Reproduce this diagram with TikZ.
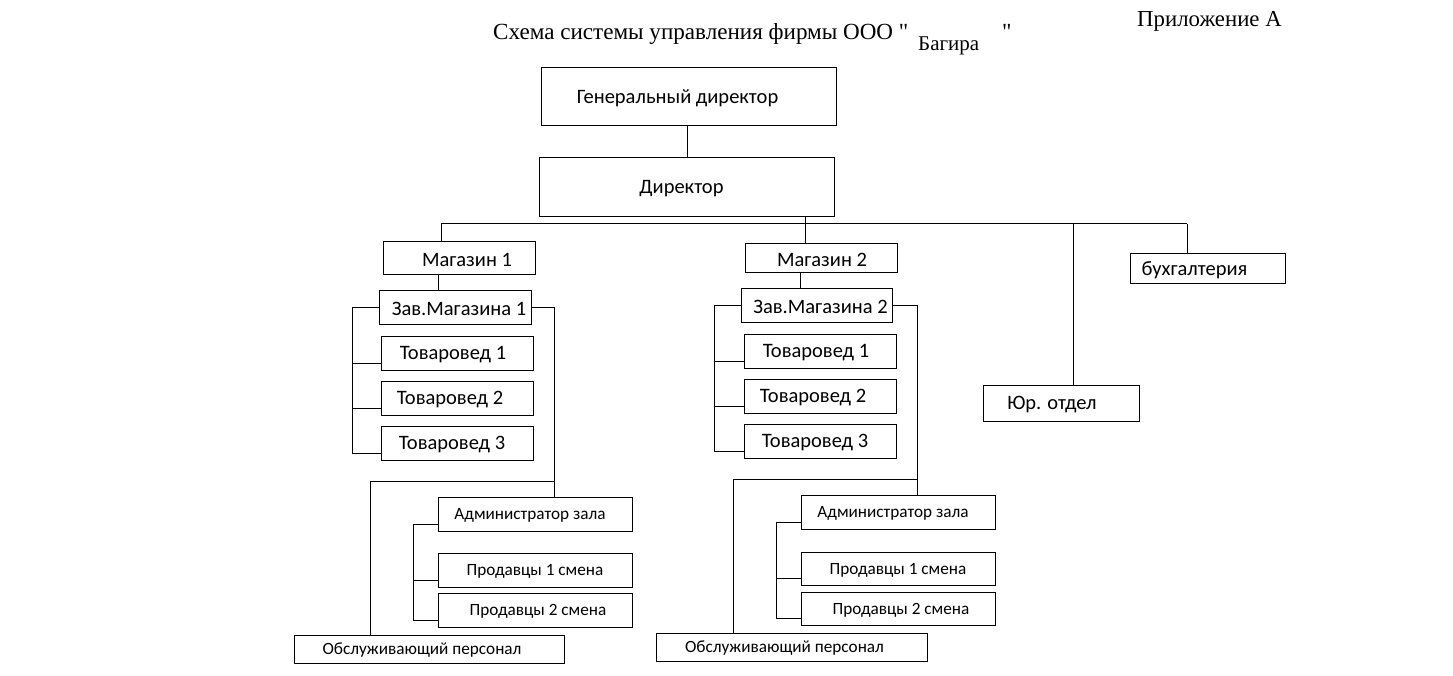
\documentclass[tikz,border=0pt]{standalone}
\usepackage{fontspec}
\setmainfont{Carlito}
\newfontfamily\tnr{Liberation Serif}
\usetikzlibrary{calc}
\tikzset{
  box/.style={draw, line width=1pt, inner sep=0pt, outer sep=0pt},
  bigt/.style={font=\fontsize{20.5}{24}\selectfont},
  smallt/.style={font=\fontsize{17.2}{20}\selectfont},
  conn/.style={line width=1pt},
}
\newcommand{\bx}[8]{% name, x1, y1, x2, y2, dx, style, text
  \node[box, minimum width={(#4-#2)*1pt}, minimum height={(#5-#3)*1pt},
        label={[#7, xshift=#6, yshift=-1.5pt]center:#8}] (#1) at ({(#2+#4)/2},{(#3+#5)/2}) {};}
\begin{document}
\begin{tikzpicture}[x=1pt,y=-1pt]
\useasboundingbox (0,0) rectangle (1453,676);
% titles
\node[font=\tnr\fontsize{23.1}{26}\selectfont, anchor=base west, inner sep=0pt] (title) at (493,40) {Схема системы управления фирмы ООО "};
\node[font=\tnr\fontsize{21}{24}\selectfont, anchor=base west, inner sep=0pt] (bag) at (918,51) {Багира};
\node[font=\tnr\fontsize{23.1}{26}\selectfont, anchor=base west, inner sep=0pt] (q2) at (1002,40) {"};
\node[font=\tnr\fontsize{22.8}{26}\selectfont, anchor=base west, inner sep=0pt] (app) at (1137,27) {Приложение А};
% boxes
\bx{gd}{541}{68}{836}{126}{-11}{bigt}{Генеральный директор}
\bx{dir}{539}{158}{834}{217}{-5}{bigt}{Директор}
\bx{m1}{383}{242}{535}{275}{8}{bigt}{Магазин 1}
\bx{m2}{745}{244}{897}{273}{1}{bigt}{Магазин 2}
\bx{buh}{1130}{254}{1285}{284}{-13}{bigt}{бухгалтерия}
\bx{yur}{983}{385}{1139}{421}{-9}{bigt}{Юр. отдел}
% group 1
\bx{z1}{379}{290}{531}{324}{4}{bigt}{Зав.Магазина 1}
\bx{ta1}{381}{336}{533}{370}{-4}{bigt}{Товаровед 1}
\bx{ta2}{381}{381}{533}{415}{-7}{bigt}{Товаровед 2}
\bx{ta3}{381}{426}{533}{460}{-5}{bigt}{Товаровед 3}
\bx{a1}{438}{497}{632}{531}{-5}{smallt}{Администратор зала}
\bx{pa1}{438}{553}{632}{587}{0}{smallt}{Продавцы 1 смена}
\bx{pb1}{438}{593}{632}{627}{3}{smallt}{Продавцы 2 смена}
\bx{o1}{294}{635}{564}{663}{-7}{smallt}{Обслуживающий персонал}
% group 2
\bx{z2}{741}{288}{892}{322}{4}{bigt}{Зав.Магазина 2}
\bx{tb1}{744}{334}{896}{368}{-4}{bigt}{Товаровед 1}
\bx{tb2}{744}{379}{896}{413}{-7}{bigt}{Товаровед 2}
\bx{tb3}{744}{424}{896}{458}{-5}{bigt}{Товаровед 3}
\bx{a2}{801}{495}{995}{529}{-5}{smallt}{Администратор зала}
\bx{pa2}{801}{552}{995}{585}{0}{smallt}{Продавцы 1 смена}
\bx{pb2}{801}{592}{995}{625}{3}{smallt}{Продавцы 2 смена}
\bx{o2}{656}{633}{927}{661}{-7}{smallt}{Обслуживающий персонал}
% coordinates
\coordinate (busL) at (441,224);
\coordinate (busR) at (1187,224);
\coordinate (busM) at (805,224);
\coordinate (busY) at (1073,224);
\coordinate (gdx) at (687,0);
\coordinate (m1x) at (438,0);
\coordinate (m2x) at (800,0);
\coordinate (lb1) at (352,0);
\coordinate (lb2) at (714,0);
\coordinate (rb1) at (554,0);
\coordinate (rb2) at (917,0);
\coordinate (h1) at (0,481.5);
\coordinate (h2) at (0,479.5);
\coordinate (ob1) at (370,0);
\coordinate (ob2) at (733,0);
\coordinate (ab1) at (413,0);
\coordinate (ab2) at (776,0);
% connectors top
\draw[conn] (gdx |- gd.south) -- (gdx |- dir.north);
\draw[conn] (busL) -- (busR);
\draw[conn] (busL) -- (busL |- m1.north);
\draw[conn] (busM |- dir.south) -- (busM |- m2.north);
\draw[conn] (busY) -- (busY |- yur.north);
\draw[conn] (busR) -- (busR |- buh.north);
\draw[conn] (m1x |- m1.south) -- (m1x |- z1.north);
\draw[conn] (m2x |- m2.south) -- (m2x |- z2.north);
% group 1 brackets
\draw[conn] (z1.west) -- (z1.west -| lb1) -- (lb1 |- {$(ta3.south west)+(0,-7)$});
\foreach \t in {ta1,ta2,ta3}
  \draw[conn] (lb1 |- {$(\t.south west)+(0,-7)$}) -- ($(\t.south west)+(0,-7)$);
\draw[conn] (z1.east) -- (z1.east -| rb1) -- (rb1 |- a1.north);
\draw[conn] (rb1 |- h1) -- (ob1 |- h1) -- (ob1 |- o1.north);
\draw[conn] ($(a1.south west)+(0,-7)$) -- (ab1 |- {$(a1.south west)+(0,-7)$}) -- (ab1 |- {$(pb1.south west)+(0,-7)$});
\foreach \t in {pa1,pb1}
  \draw[conn] (ab1 |- {$(\t.south west)+(0,-7)$}) -- ($(\t.south west)+(0,-7)$);
% group 2 brackets
\draw[conn] (z2.west) -- (z2.west -| lb2) -- (lb2 |- {$(tb3.south west)+(0,-7)$});
\foreach \t in {tb1,tb2,tb3}
  \draw[conn] (lb2 |- {$(\t.south west)+(0,-7)$}) -- ($(\t.south west)+(0,-7)$);
\draw[conn] (z2.east) -- (z2.east -| rb2) -- (rb2 |- a2.north);
\draw[conn] (rb2 |- h2) -- (ob2 |- h2) -- (ob2 |- o2.north);
\draw[conn] ($(a2.south west)+(0,-7)$) -- (ab2 |- {$(a2.south west)+(0,-7)$}) -- (ab2 |- {$(pb2.south west)+(0,-7)$});
\foreach \t in {pa2,pb2}
  \draw[conn] (ab2 |- {$(\t.south west)+(0,-7)$}) -- ($(\t.south west)+(0,-7)$);
\end{tikzpicture}
\end{document}
